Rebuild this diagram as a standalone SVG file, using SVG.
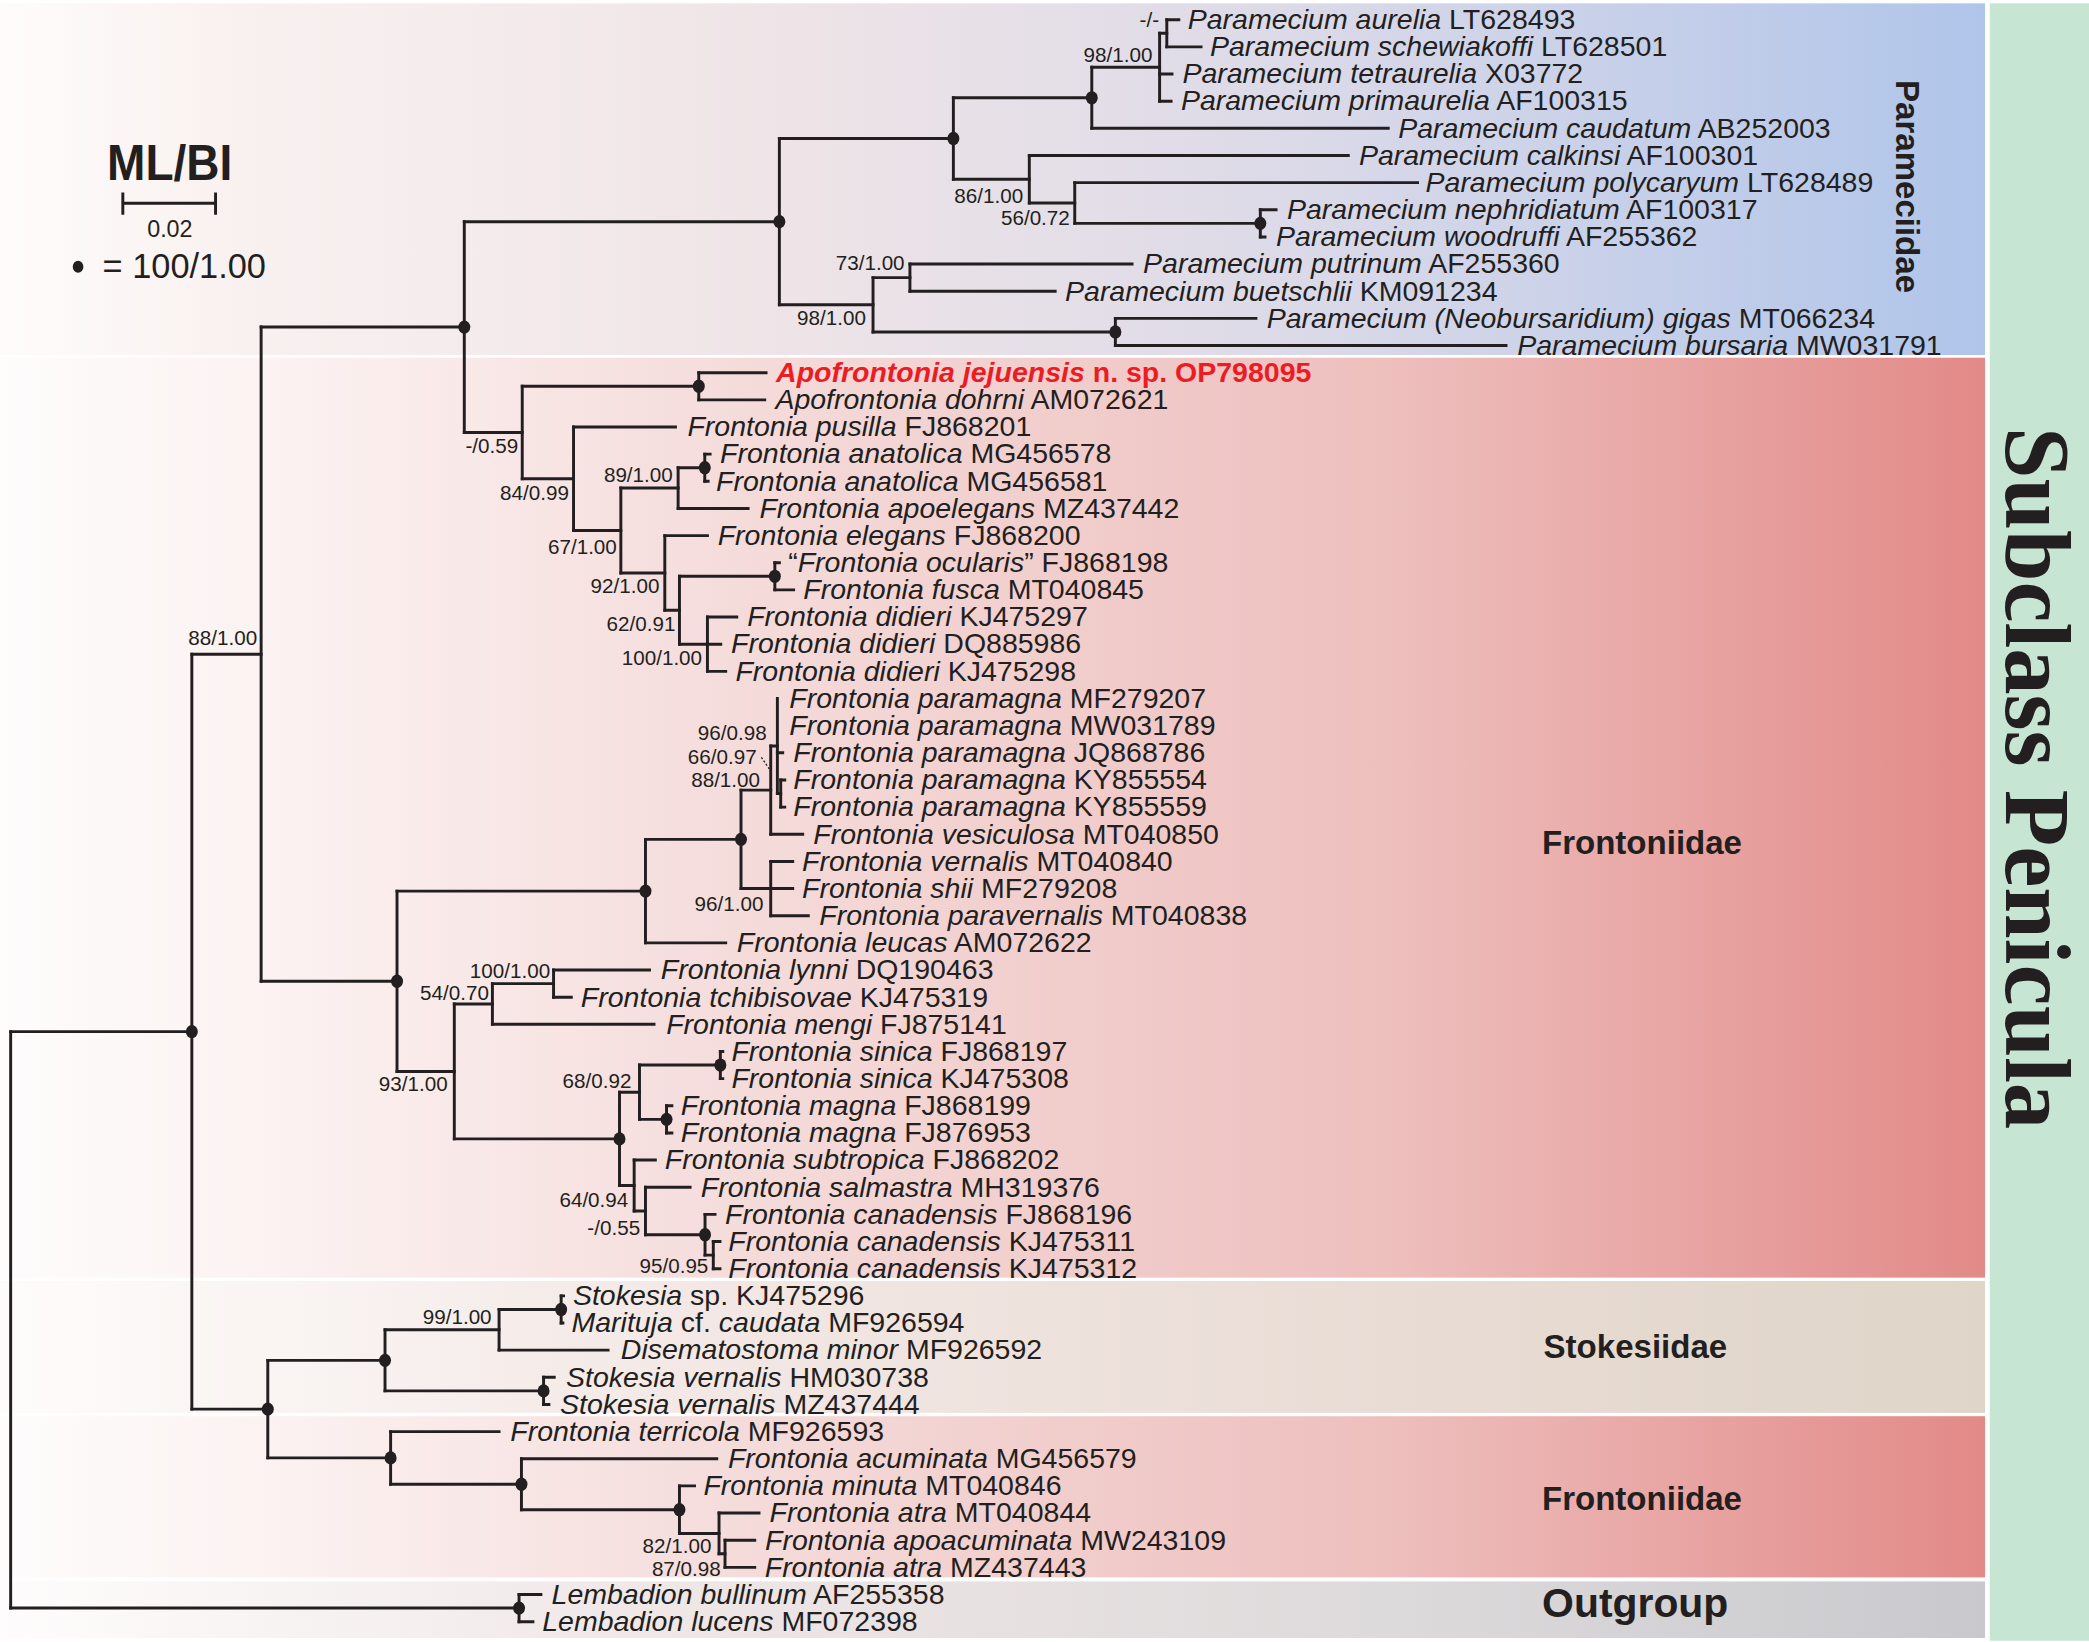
<svg xmlns="http://www.w3.org/2000/svg" width="2089" height="1642" viewBox="0 0 2089 1642">
<defs>
<style>
.tip{font-family:"Liberation Sans",Arial,sans-serif;font-size:21.4px;fill:#231f20}
.i{font-style:italic}
.red{fill:#ed1c24;font-weight:bold}
.bs{font-family:"Liberation Sans",Arial,sans-serif;font-size:15.5px;fill:#231f20;text-anchor:end}
.grp{font-family:"Liberation Sans",Arial,sans-serif;font-weight:bold;font-size:24.8px;fill:#231f20}
.br{fill:none;stroke:#231f20;stroke-width:2.2;stroke-linecap:square;stroke-linejoin:miter}
.dot{fill:#231f20}
</style>
<linearGradient id="gPar" gradientUnits="userSpaceOnUse" x1="0" y1="0" x2="1490" y2="0">
<stop offset="0" stop-color="#fefcfb"/><stop offset="0.12" stop-color="#f9f1f0"/><stop offset="0.4" stop-color="#eee4e7"/><stop offset="0.65" stop-color="#dcdae8"/><stop offset="1" stop-color="#b0c5ea"/>
</linearGradient>
<linearGradient id="gFro" gradientUnits="userSpaceOnUse" x1="0" y1="0" x2="1490" y2="0">
<stop offset="0" stop-color="#fefcfc"/><stop offset="0.15" stop-color="#fbf1f0"/><stop offset="0.35" stop-color="#f5dedd"/><stop offset="0.7" stop-color="#edbfbd"/><stop offset="1" stop-color="#e28a88"/>
</linearGradient>
<linearGradient id="gSto" gradientUnits="userSpaceOnUse" x1="0" y1="0" x2="1490" y2="0">
<stop offset="0" stop-color="#fefcfb"/><stop offset="0.35" stop-color="#f3e8e5"/><stop offset="0.7" stop-color="#e9dcd5"/><stop offset="1" stop-color="#dfd5c8"/>
</linearGradient>
<linearGradient id="gOut" gradientUnits="userSpaceOnUse" x1="0" y1="0" x2="1490" y2="0">
<stop offset="0" stop-color="#fefcfc"/><stop offset="0.35" stop-color="#efe6e6"/><stop offset="0.7" stop-color="#dddadb"/><stop offset="1" stop-color="#c9c9cd"/>
</linearGradient>
</defs>
<rect x="0" y="0" width="2089" height="1642" fill="#ffffff"/>
<g transform="scale(1.33227)">
<g id="bands">
<rect x="0" y="2.5" width="1490" height="264" fill="url(#gPar)"/>
<rect x="0" y="268.5" width="1490" height="690.5" fill="url(#gFro)"/>
<rect x="0" y="961.5" width="1490" height="99" fill="url(#gSto)"/>
<rect x="0" y="1063" width="1490" height="121" fill="url(#gFro)"/>
<rect x="0" y="1187" width="1490" height="42.5" fill="url(#gOut)"/>
<rect x="1493.5" y="2.5" width="75" height="1229" fill="#c6e5d2"/>
</g>
<g id="legend">
<text x="80.4" y="135" font-family="'Liberation Sans',Arial,sans-serif" font-weight="bold" font-size="37" fill="#231f20" textLength="94" lengthAdjust="spacingAndGlyphs">ML/BI</text>
<path class="br" d="M92.2 152.6H161.8M92.2 145.5V160M161.8 145.5V160"/>
<text x="127.5" y="177.7" font-family="'Liberation Sans',Arial,sans-serif" font-size="17.5" fill="#231f20" text-anchor="middle">0.02</text>
<ellipse class="dot" cx="58.6" cy="200.2" rx="4" ry="4.5"/>
<text x="77" y="209" font-family="'Liberation Sans',Arial,sans-serif" font-size="25.8" fill="#231f20">= 100/1.00</text>
</g>
<g id="connectors" class="br">
<path d="M875.8 14.8V35.18M870.4 24.99V75.94M819.5 50.47V96.32M946 157.46V177.84M806.7 137.08V167.65M772.6 116.7V152.37M715.6 73.4V134.5M683 198.22V218.6M837.2 238.98V259.36M655.3 208.41V249.17M585 103.97V228.79M524.5 279.74V300.12M529 340.88V361.26M509 351.07V381.64M581.6 422.4V442.78M531 463.16V503.92M510 432.59V483.54M499 402.02V458.07M466 366.36V430.04M430.5 320.5V398.2M392 289.93V359.35M348.5 166.38V324.64M586 585.44V605.82M583.5 524.3V595.63M578.5 559.97V626.2M578.5 646.58V687.34M556.2 593.08V666.96M484.5 630.02V707.72M415.5 728.1V748.48M369.6 738.29V768.86M540.7 789.24V809.62M500.3 830V850.38M480 799.43V840.19M535.4 931.9V952.28M529.2 911.52V942.09M484.5 891.14V926.8M476 870.76V908.97M465 819.81V889.87M341 753.58V854.84M298 668.87V804.21M196 245.51V736.54M421.2 972.66V993.04M374.6 982.85V1013.42M408 1033.8V1054.18M289 998.14V1043.99M544.2 1156.08V1176.46M539.7 1135.7V1166.27M510 1115.32V1150.99M391.4 1094.94V1133.16M293.2 1074.56V1114.05M201 1021.07V1094.3M144 491.03V1057.69M389.6 1196.84V1217.22M8 774.36V1207.03"/>
<path d="M870.4 24.99H875.8M819.5 50.47H870.4M715.6 73.4H819.5M806.7 167.65H946M772.6 152.37H806.7M715.6 134.5H772.6M585 103.97H715.6M655.3 208.41H683M655.3 249.17H837.2M585 228.79H655.3M348.5 166.38H585M392 289.93H524.5M509 351.07H529M466 366.36H509M510 432.59H581.6M510 483.54H531M499 458.07H510M466 430.04H499M430.5 398.2H466M392 359.35H430.5M348.5 324.64H392M196 245.51H348.5M583.5 595.63H586M578.5 559.97H583.5M556.2 593.08H578.5M556.2 666.96H578.5M484.5 630.02H556.2M298 668.87H484.5M369.6 738.29H415.5M341 753.58H369.6M480 799.43H540.7M480 840.19H500.3M465 819.81H480M529.2 942.09H535.4M484.5 926.8H529.2M476 908.97H484.5M465 889.87H476M341 854.84H465M298 804.21H341M196 736.54H298M144 491.03H196M374.6 982.85H421.2M289 998.14H374.6M289 1043.99H408M201 1021.07H289M539.7 1166.27H544.2M510 1150.99H539.7M391.4 1133.16H510M293.2 1114.05H391.4M201 1094.3H293.2M144 1057.69H201M8 774.36H144M8 1207.03H389.6"/>
<path d="M875.8 14.8H884.8M875.8 35.18H901.5M870.4 55.56H879.7M870.4 75.94H879M819.5 96.32H1042M772.6 116.7H1012M806.7 137.08H1064M946 157.46H957.8M946 177.84H949.5M683 198.22H849.7M683 218.6H792M837.2 238.98H942.7M837.2 259.36H1130.4M524.5 279.74H575M524.5 300.12H574M430.5 320.5H507M529 340.88H533M529 361.26H531.5M509 381.64H561.5M499 402.02H531M581.6 422.4H585M581.6 442.78H595.7M531 463.16H553M531 483.54H541M531 503.92H544.7M583.5 565.06H587.5M586 585.44H589M586 605.82H589M578.5 626.2H602.5M578.5 646.58H595M578.5 666.96H595M578.5 687.34H606.7M484.5 707.72H544.7M415.5 728.1H487.5M415.5 748.48H428.8M369.6 768.86H490.9M540.7 789.24H542.5M540.7 809.62H542.5M500.3 830H504.3M500.3 850.38H504.3M476 870.76H491.9M484.5 891.14H518M529.2 911.52H536.7M535.4 931.9H540.4M535.4 952.28H540.4M421.2 972.66H423M421.2 993.04H422.5M374.6 1013.42H456.4M408 1033.8H416M408 1054.18H412M293.2 1074.56H374.6M391.4 1094.94H538M510 1115.32H521.3M539.7 1135.7H569.7M544.2 1156.08H566.5M544.2 1176.46H566.5M389.6 1196.84H406M389.6 1217.22H400"/>
<path d="M571.5 568.5L578 578" stroke-width="1" stroke-dasharray="1.5 1.5" stroke-linecap="butt"/>
</g>
<g id="tips">
<g id="tip-00"><text class="tip" x="891.5" y="21.8"><tspan class="i">Paramecium aurelia</tspan> LT628493</text></g>
<g id="tip-01"><text class="tip" x="908.2" y="42.2"><tspan class="i">Paramecium schewiakoffi</tspan> LT628501</text></g>
<g id="tip-02"><text class="tip" x="887.5" y="62.6"><tspan class="i">Paramecium tetraurelia</tspan> X03772</text></g>
<g id="tip-03"><text class="tip" x="886.4" y="82.9"><tspan class="i">Paramecium primaurelia</tspan> AF100315</text></g>
<g id="tip-04"><text class="tip" x="1049.5" y="103.3"><tspan class="i">Paramecium caudatum</tspan> AB252003</text></g>
<g id="tip-05"><text class="tip" x="1020" y="123.7"><tspan class="i">Paramecium calkinsi</tspan> AF100301</text></g>
<g id="tip-06"><text class="tip" x="1070" y="144.1"><tspan class="i">Paramecium polycaryum</tspan> LT628489</text></g>
<g id="tip-07"><text class="tip" x="966" y="164.5"><tspan class="i">Paramecium nephridiatum</tspan> AF100317</text></g>
<g id="tip-08"><text class="tip" x="957.8" y="184.8"><tspan class="i">Paramecium woodruffi</tspan> AF255362</text></g>
<g id="tip-09"><text class="tip" x="858" y="205.2"><tspan class="i">Paramecium putrinum</tspan> AF255360</text></g>
<g id="tip-10"><text class="tip" x="799.4" y="225.6"><tspan class="i">Paramecium buetschlii</tspan> KM091234</text></g>
<g id="tip-11"><text class="tip" x="950.8" y="246"><tspan class="i">Paramecium (Neobursaridium) gigas</tspan> MT066234</text></g>
<g id="tip-12"><text class="tip" x="1138.8" y="266.4"><tspan class="i">Paramecium bursaria</tspan> MW031791</text></g>
<g id="tip-13"><text class="tip red" x="582.5" y="286.7"><tspan class="i">Apofrontonia jejuensis</tspan> n. sp. OP798095</text></g>
<g id="tip-14"><text class="tip" x="582" y="307.1"><tspan class="i">Apofrontonia dohrni</tspan> AM072621</text></g>
<g id="tip-15"><text class="tip" x="516" y="327.5"><tspan class="i">Frontonia pusilla</tspan> FJ868201</text></g>
<g id="tip-16"><text class="tip" x="540.5" y="347.9"><tspan class="i">Frontonia anatolica</tspan> MG456578</text></g>
<g id="tip-17"><text class="tip" x="537.5" y="368.3"><tspan class="i">Frontonia anatolica</tspan> MG456581</text></g>
<g id="tip-18"><text class="tip" x="570" y="388.6"><tspan class="i">Frontonia apoelegans</tspan> MZ437442</text></g>
<g id="tip-19"><text class="tip" x="538.7" y="409"><tspan class="i">Frontonia elegans</tspan> FJ868200</text></g>
<g id="tip-20"><text class="tip" x="591.6" y="429.4">“<tspan class="i">Frontonia ocularis</tspan>” FJ868198</text></g>
<g id="tip-21"><text class="tip" x="603" y="449.8"><tspan class="i">Frontonia fusca</tspan> MT040845</text></g>
<g id="tip-22"><text class="tip" x="560.8" y="470.2"><tspan class="i">Frontonia didieri</tspan> KJ475297</text></g>
<g id="tip-23"><text class="tip" x="548.7" y="490.5"><tspan class="i">Frontonia didieri</tspan> DQ885986</text></g>
<g id="tip-24"><text class="tip" x="552" y="510.9"><tspan class="i">Frontonia didieri</tspan> KJ475298</text></g>
<g id="tip-25"><text class="tip" x="592.5" y="531.3"><tspan class="i">Frontonia paramagna</tspan> MF279207</text></g>
<g id="tip-26"><text class="tip" x="592.5" y="551.7"><tspan class="i">Frontonia paramagna</tspan> MW031789</text></g>
<g id="tip-27"><text class="tip" x="595.5" y="572.1"><tspan class="i">Frontonia paramagna</tspan> JQ868786</text></g>
<g id="tip-28"><text class="tip" x="595.5" y="592.4"><tspan class="i">Frontonia paramagna</tspan> KY855554</text></g>
<g id="tip-29"><text class="tip" x="595.5" y="612.8"><tspan class="i">Frontonia paramagna</tspan> KY855559</text></g>
<g id="tip-30"><text class="tip" x="610.5" y="633.2"><tspan class="i">Frontonia vesiculosa</tspan> MT040850</text></g>
<g id="tip-31"><text class="tip" x="602" y="653.6"><tspan class="i">Frontonia vernalis</tspan> MT040840</text></g>
<g id="tip-32"><text class="tip" x="602" y="674"><tspan class="i">Frontonia shii</tspan> MF279208</text></g>
<g id="tip-33"><text class="tip" x="615" y="694.3"><tspan class="i">Frontonia paravernalis</tspan> MT040838</text></g>
<g id="tip-34"><text class="tip" x="553" y="714.7"><tspan class="i">Frontonia leucas</tspan> AM072622</text></g>
<g id="tip-35"><text class="tip" x="496" y="735.1"><tspan class="i">Frontonia lynni</tspan> DQ190463</text></g>
<g id="tip-36"><text class="tip" x="436" y="755.5"><tspan class="i">Frontonia tchibisovae</tspan> KJ475319</text></g>
<g id="tip-37"><text class="tip" x="500" y="775.9"><tspan class="i">Frontonia mengi</tspan> FJ875141</text></g>
<g id="tip-38"><text class="tip" x="549" y="796.2"><tspan class="i">Frontonia sinica</tspan> FJ868197</text></g>
<g id="tip-39"><text class="tip" x="549" y="816.6"><tspan class="i">Frontonia sinica</tspan> KJ475308</text></g>
<g id="tip-40"><text class="tip" x="511" y="837"><tspan class="i">Frontonia magna</tspan> FJ868199</text></g>
<g id="tip-41"><text class="tip" x="511" y="857.4"><tspan class="i">Frontonia magna</tspan> FJ876953</text></g>
<g id="tip-42"><text class="tip" x="499" y="877.8"><tspan class="i">Frontonia subtropica</tspan> FJ868202</text></g>
<g id="tip-43"><text class="tip" x="526" y="898.1"><tspan class="i">Frontonia salmastra</tspan> MH319376</text></g>
<g id="tip-44"><text class="tip" x="544.2" y="918.5"><tspan class="i">Frontonia canadensis</tspan> FJ868196</text></g>
<g id="tip-45"><text class="tip" x="546.7" y="938.9"><tspan class="i">Frontonia canadensis</tspan> KJ475311</text></g>
<g id="tip-46"><text class="tip" x="546.7" y="959.3"><tspan class="i">Frontonia canadensis</tspan> KJ475312</text></g>
<g id="tip-47"><text class="tip" x="430" y="979.7"><tspan class="i">Stokesia</tspan> sp. KJ475296</text></g>
<g id="tip-48"><text class="tip" x="429" y="1000"><tspan class="i">Marituja</tspan> cf. <tspan class="i">caudata</tspan> MF926594</text></g>
<g id="tip-49"><text class="tip" x="466" y="1020.4"><tspan class="i">Disematostoma minor</tspan> MF926592</text></g>
<g id="tip-50"><text class="tip" x="424.9" y="1040.8"><tspan class="i">Stokesia vernalis</tspan> HM030738</text></g>
<g id="tip-51"><text class="tip" x="420.4" y="1061.2"><tspan class="i">Stokesia vernalis</tspan> MZ437444</text></g>
<g id="tip-52"><text class="tip" x="383" y="1081.6"><tspan class="i">Frontonia terricola</tspan> MF926593</text></g>
<g id="tip-53"><text class="tip" x="546.4" y="1101.9"><tspan class="i">Frontonia acuminata</tspan> MG456579</text></g>
<g id="tip-54"><text class="tip" x="528" y="1122.3"><tspan class="i">Frontonia minuta</tspan> MT040846</text></g>
<g id="tip-55"><text class="tip" x="577.6" y="1142.7"><tspan class="i">Frontonia atra</tspan> MT040844</text></g>
<g id="tip-56"><text class="tip" x="574.2" y="1163.1"><tspan class="i">Frontonia apoacuminata</tspan> MW243109</text></g>
<g id="tip-57"><text class="tip" x="574" y="1183.5"><tspan class="i">Frontonia atra</tspan> MZ437443</text></g>
<g id="tip-58"><text class="tip" x="414" y="1203.8"><tspan class="i">Lembadion bullinum</tspan> AF255358</text></g>
<g id="tip-59"><text class="tip" x="407" y="1224.2"><tspan class="i">Lembadion lucens</tspan> MF072398</text></g>
</g>
<g id="internal-nodes">
<g id="n-par"><ellipse class="dot" cx="585" cy="166.38" rx="4.5" ry="5"/></g>
<g id="n-716"><ellipse class="dot" cx="715.6" cy="103.97" rx="4.5" ry="5"/></g>
<g id="n-98a"><ellipse class="dot" cx="819.5" cy="73.4" rx="4.5" ry="5"/></g>
<g id="n-nw"><ellipse class="dot" cx="946" cy="167.65" rx="4.5" ry="5"/></g>
<g id="n-gb"><ellipse class="dot" cx="837.2" cy="249.17" rx="4.5" ry="5"/></g>
<g id="n-349"><ellipse class="dot" cx="348.5" cy="245.51" rx="4.5" ry="5"/></g>
<g id="n-apo"><ellipse class="dot" cx="524.5" cy="289.93" rx="4.5" ry="5"/></g>
<g id="n-ana"><ellipse class="dot" cx="529" cy="351.07" rx="4.5" ry="5"/></g>
<g id="n-ocu"><ellipse class="dot" cx="581.6" cy="432.59" rx="4.5" ry="5"/></g>
<g id="n-556"><ellipse class="dot" cx="556.2" cy="630.02" rx="4.5" ry="5"/></g>
<g id="n-484"><ellipse class="dot" cx="484.5" cy="668.87" rx="4.5" ry="5"/></g>
<g id="n-298"><ellipse class="dot" cx="298" cy="736.54" rx="4.5" ry="5"/></g>
<g id="n-144"><ellipse class="dot" cx="144" cy="774.36" rx="4.5" ry="5"/></g>
<g id="n-sin"><ellipse class="dot" cx="540.7" cy="799.43" rx="4.5" ry="5"/></g>
<g id="n-mag"><ellipse class="dot" cx="500.3" cy="840.19" rx="4.5" ry="5"/></g>
<g id="n-465"><ellipse class="dot" cx="465" cy="854.84" rx="4.5" ry="5"/></g>
<g id="n-can"><ellipse class="dot" cx="529.2" cy="926.8" rx="4.5" ry="5"/></g>
<g id="n-ms"><ellipse class="dot" cx="421.2" cy="982.85" rx="4.5" ry="5"/></g>
<g id="n-stk"><ellipse class="dot" cx="289" cy="1021.07" rx="4.5" ry="5"/></g>
<g id="n-sv"><ellipse class="dot" cx="408" cy="1043.99" rx="4.5" ry="5"/></g>
<g id="n-201"><ellipse class="dot" cx="201" cy="1057.69" rx="4.5" ry="5"/></g>
<g id="n-293"><ellipse class="dot" cx="293.2" cy="1094.3" rx="4.5" ry="5"/></g>
<g id="n-391"><ellipse class="dot" cx="391.4" cy="1114.05" rx="4.5" ry="5"/></g>
<g id="n-82"><ellipse class="dot" cx="510" cy="1133.16" rx="4.5" ry="5"/></g>
<g id="n-lem"><ellipse class="dot" cx="389.6" cy="1207.03" rx="4.5" ry="5"/></g>
<g id="n-minus"><text class="bs" x="870" y="20">-/-</text></g>
<g id="n-aur"><text class="bs" x="865" y="46.3">98/1.00</text></g>
<g id="n-86"><text class="bs" x="768" y="152.6">86/1.00</text></g>
<g id="n-56"><text class="bs" x="803" y="169">56/0.72</text></g>
<g id="n-73"><text class="bs" x="679" y="202.7">73/1.00</text></g>
<g id="n-98b"><text class="bs" x="650" y="244">98/1.00</text></g>
<g id="n-059"><text class="bs" x="389" y="340">-/0.59</text></g>
<g id="n-84"><text class="bs" x="427" y="375">84/0.99</text></g>
<g id="n-89"><text class="bs" x="505" y="361.5">89/1.00</text></g>
<g id="n-67"><text class="bs" x="463" y="416">67/1.00</text></g>
<g id="n-92"><text class="bs" x="495" y="445">92/1.00</text></g>
<g id="n-62"><text class="bs" x="507" y="474">62/0.91</text></g>
<g id="n-did"><text class="bs" x="527" y="499">100/1.00</text></g>
<g id="n-88a"><text class="bs" x="193" y="484">88/1.00</text></g>
<g id="n-96a"><text class="bs" x="575.5" y="555.5">96/0.98</text></g>
<g id="n-66"><text class="bs" x="568" y="573.5">66/0.97</text></g>
<g id="n-88b"><text class="bs" x="570.5" y="590.5">88/1.00</text></g>
<g id="n-96b"><text class="bs" x="573" y="684">96/1.00</text></g>
<g id="n-100b"><text class="bs" x="413" y="734">100/1.00</text></g>
<g id="n-54"><text class="bs" x="367" y="750.5">54/0.70</text></g>
<g id="n-93"><text class="bs" x="336" y="819">93/1.00</text></g>
<g id="n-68"><text class="bs" x="474" y="817">68/0.92</text></g>
<g id="n-64"><text class="bs" x="471.6" y="905.7">64/0.94</text></g>
<g id="n-055"><text class="bs" x="480.5" y="927">-/0.55</text></g>
<g id="n-95"><text class="bs" x="531.7" y="955.7">95/0.95</text></g>
<g id="n-99"><text class="bs" x="369" y="994">99/1.00</text></g>
<g id="n-87"><text class="bs" x="534" y="1166">82/1.00</text></g>
<g id="n-aB"><text class="bs" x="541" y="1183">87/0.98</text></g>
</g>
<g id="group-labels">
<text class="grp" transform="translate(1423 140) rotate(90)" text-anchor="middle">Parameciidae</text>
<text class="grp" x="1157.4" y="641">Frontoniidae</text>
<text class="grp" x="1158.6" y="1019.5">Stokesiidae</text>
<text class="grp" x="1157.4" y="1133.5">Frontoniidae</text>
<text class="grp" x="1157.5" y="1213.5" style="font-size:30.7px">Outgroup</text>
<text transform="translate(1506 584) rotate(90)" text-anchor="middle" font-family="'Liberation Serif','Times New Roman',serif" font-weight="bold" font-size="69.5" fill="#231f20">Subclass Penicula</text>
</g>
</g>
</svg>
